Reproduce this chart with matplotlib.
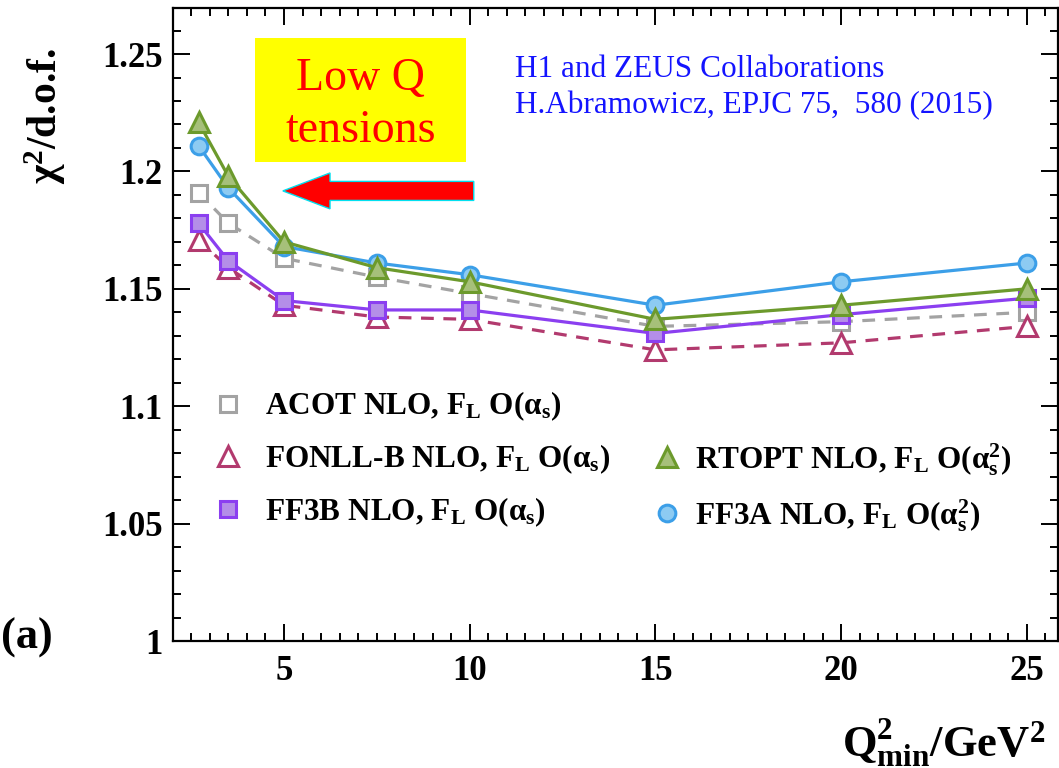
import matplotlib
matplotlib.use('Agg')
import matplotlib.pyplot as plt
from matplotlib.lines import Line2D
from matplotlib.patches import Rectangle, FancyArrow
from matplotlib.ticker import MultipleLocator

plt.rcParams['font.family'] = 'Liberation Serif'
plt.rcParams['font.weight'] = 'bold'
plt.rcParams['mathtext.fontset'] = 'custom'
plt.rcParams['mathtext.rm'] = 'Liberation Serif:bold'
plt.rcParams['mathtext.bf'] = 'Liberation Serif:bold'
plt.rcParams['mathtext.it'] = 'Liberation Serif:bold'
plt.rcParams['mathtext.default'] = 'bf'

# chi2/dof vs Q2 cut for the different heavy-flavour schemes
q2min = [2.7, 3.5, 5, 7.5, 10, 15, 20, 25]
acot = [1.191, 1.178, 1.163, 1.155, 1.148, 1.134, 1.136, 1.140]
fonll = [1.171, 1.159, 1.143, 1.138, 1.137, 1.124, 1.127, 1.134]
ff3b = [1.178, 1.162, 1.145, 1.141, 1.141, 1.131, 1.139, 1.146]
rtopt = [1.221, 1.198, 1.170, 1.159, 1.153, 1.137, 1.143, 1.150]
ff3a = [1.211, 1.193, 1.168, 1.161, 1.156, 1.143, 1.153, 1.161]

labels = {
    'acot': r'ACOT NLO, F$_{L}$ O(α$_{s}$)',
    'fonll': r'FONLL-B NLO, F$_{L}$ O(α$_{s}$)',
    'ff3b': r'FF3B NLO, F$_{L}$ O(α$_{s}$)',
    'rtopt': r'RTOPT NLO, F$_{L}$ O(α$_{s}^{2}$)',
    'ff3a': r'FF3A NLO, F$_{L}$ O(α$_{s}^{2}$)',
}
yticks = [1.0, 1.05, 1.1, 1.15, 1.2, 1.25]
yticklabels = ['1', '1.05', '1.1', '1.15', '1.2', '1.25']
xticks = [5, 10, 15, 20, 25]

fig = plt.figure(figsize=(10.59, 7.68), dpi=100)
ax = fig.add_axes([0.1629, 0.16536, 0.8366, 0.82422])

# styles: (line colour, face colour, marker, linestyle, markersize)
sty = {
    'acot': ('#a3a3a3', 'white', 's', (0, (4, 3)), 12),
    'fonll': ('#b23a6e', 'white', '^', (0, (4, 3)), 15),
    'ff3b': ('#8b3ff0', '#b48ee8', 's', '-', 12),
    'ff3a': ('#3c9fe8', '#8dcbf2', 'o', '-', 12),
    'rtopt': ('#6c9a2c', '#a6c07a', '^', '-', 15),
}
series = {'acot': acot, 'fonll': fonll, 'ff3b': ff3b, 'ff3a': ff3a, 'rtopt': rtopt}

handles = {}
for key in ['acot', 'fonll', 'ff3b', 'ff3a', 'rtopt']:
    c, fc, m, ls, ms = sty[key]
    ax.plot(q2min, series[key], color=c, ls=ls, lw=2.3, marker=m, ms=ms,
            mfc=fc, mec=c, mew=2.2)
    handles[key] = Line2D([], [], ls='none', marker=m, ms=ms, mfc=fc, mec=c, mew=2.2)

ax.set_xlim(2.0, 25.85)
ax.set_ylim(1.0, 1.2696)
ax.set_xticks(xticks)
ax.set_xticklabels([str(v) for v in xticks])
ax.set_yticks(yticks)
ax.set_yticklabels(yticklabels)
ax.xaxis.set_minor_locator(MultipleLocator(0.5))
ax.yaxis.set_minor_locator(MultipleLocator(0.01))
ax.tick_params(which='both', direction='in', top=True, right=True, width=1.4)
ax.tick_params(which='major', length=12)
ax.tick_params(which='minor', length=6)
ax.tick_params(axis='x', labelsize=25, pad=10)
ax.tick_params(axis='y', labelsize=25, pad=7)
for sp in ax.spines.values():
    sp.set_linewidth(1.6)

# legend, two separate columns
leg_kw = dict(loc='upper left', frameon=False, fontsize=22.5, borderpad=0,
              borderaxespad=0, handlelength=1.0, labelspacing=0.62)
leg1 = ax.legend([handles['acot'], handles['fonll'], handles['ff3b']],
                 [labels['acot'], labels['fonll'], labels['ff3b']],
                 bbox_to_anchor=(0.045, 0.397), handletextpad=0.69, **leg_kw)
ax.add_artist(leg1)
ax.legend([handles['rtopt'], handles['ff3a']],
          [labels['rtopt'], labels['ff3a']],
          bbox_to_anchor=(0.540, 0.316), handletextpad=0.4, **leg_kw)

# yellow note with arrow
ax.add_patch(Rectangle((4.22, 1.2038), 5.68, 0.0532, fc='#ffff00', ec='none', zorder=3))
fig.text(360.5 / 1059, 1 - 90 / 768, 'Low Q', color='red', fontsize=33,
         fontweight='normal', ha='center', va='baseline')
fig.text(360.5 / 1059, 1 - 142 / 768, 'tensions', color='red', fontsize=33,
         fontweight='normal', ha='center', va='baseline')
ax.add_patch(FancyArrow(10.11, 1.1917, -5.14, 0, width=0.0081, head_width=0.0153,
                        head_length=1.27, length_includes_head=True,
                        fc='#ff0000', ec='#00e0f0', lw=1.0, zorder=4))

fig.text(515 / 1059, 1 - 77 / 768, 'H1 and ZEUS Collaborations', color='#1414ff',
         fontsize=22.5, fontweight='normal', ha='left', va='baseline')
fig.text(515 / 1059, 1 - 113 / 768, 'H.Abramowicz, EPJC 75,  580 (2015)', color='#1414ff',
         fontsize=22.5, fontweight='normal', ha='left', va='baseline')

fig.text(45 / 1059, 1 - 48 / 768, r'χ$^{2}$/d.o.f.', rotation=90, fontsize=30,
         ha='center', va='top')
fig.text(1045 / 1059, 1 - 756 / 768, r'Q$^{2}_{min}$/GeV$^{2}$', fontsize=32,
         ha='right', va='baseline')
fig.text(0.001, 1 - 638 / 768, '(a)', fontsize=32, ha='left', va='center')

fig.savefig('out.png', dpi=100)
